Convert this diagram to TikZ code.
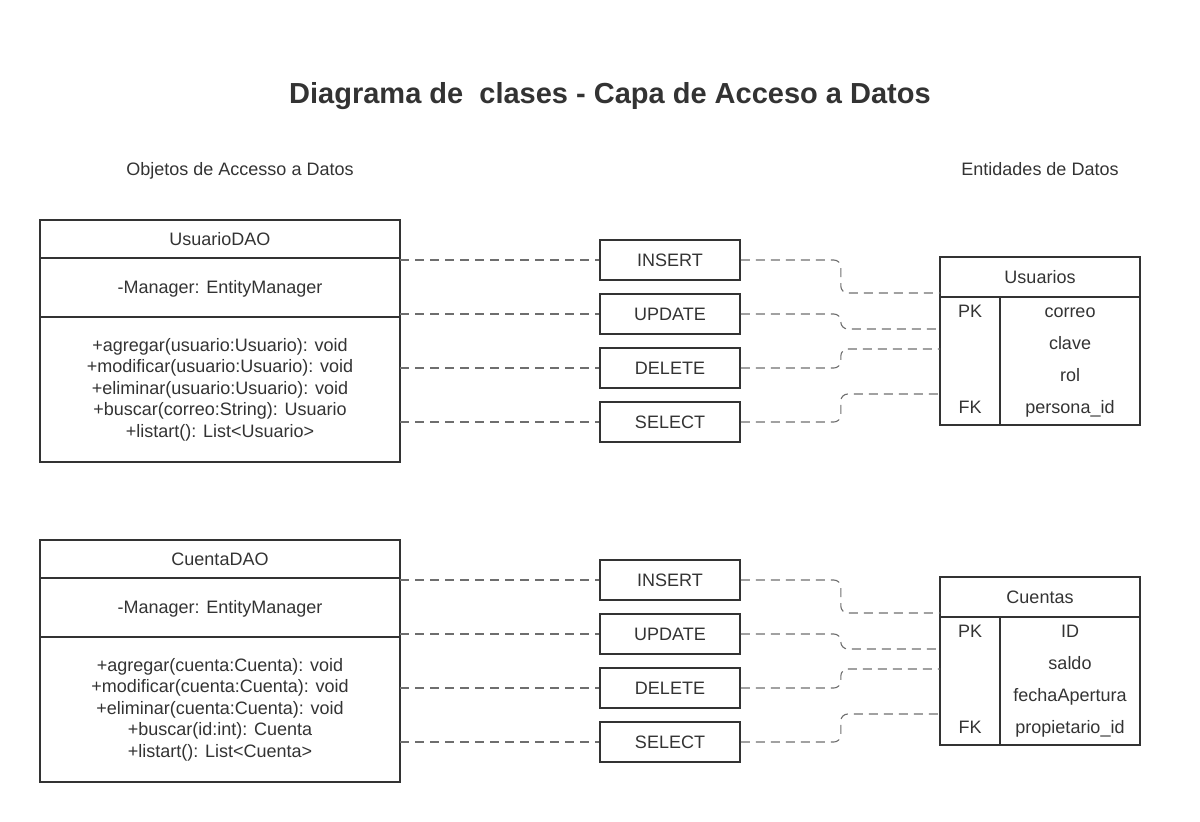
\documentclass[tikz,border=0pt]{standalone}
\usepackage{fontspec}
\setmainfont{Liberation Sans}
\usetikzlibrary{positioning, calc}

\begin{document}
\begin{tikzpicture}[x=1pt, y=-1pt,
    every node/.style={text=txtC, font=\fontsize{18}{21.5}\selectfont,
                       text height=12.9pt, text depth=0pt},
    cls/.style={draw=lineC, line width=1.6pt, minimum width=360pt, inner sep=0pt,
                outer sep=0pt, align=center},
    multi/.style={text height={}, text depth={}},
    opbox/.style={draw=lineC, line width=1.6pt, minimum width=140pt, minimum height=40pt,
                  inner sep=0pt},
    tbl/.style={draw=lineC, line width=1.6pt, minimum width=200pt, inner sep=0pt, outer sep=0pt},
    sepline/.style={draw=lineC, line width=1.6pt},
    link/.style={draw=linkC, line width=1.1pt, dash pattern=on 9pt off 6pt, rounded corners=7pt},
]

% Color definitions
\definecolor{txtC}{RGB}{51,51,51}
\definecolor{lineC}{RGB}{51,51,51}
\definecolor{linkC}{RGB}{110,110,110}

\useasboundingbox (0,0) rectangle (1200,822);

% Titles
\node[font=\bfseries\fontsize{29}{32}\selectfont, text height=20.8pt] (title) at (610,93)
  {Diagrama de\ \ clases - Capa de Acceso a Datos};
\node (daotitle) at (240,169) {Objetos de Accesso a Datos};
\node (enttitle) at (1040,169) {Entidades de Datos};

% UsuarioDAO class
\node[cls, minimum height=38pt] (uhead) at (220,239) {UsuarioDAO};
\node[cls, minimum height=59pt, below=0pt of uhead] (uattr) {-Manager: EntityManager};
\node[cls, multi, minimum height=145pt, below=0pt of uattr] (umeth)
  {+agregar(usuario:Usuario): void\\
   +modificar(usuario:Usuario): void\\
   +eliminar(usuario:Usuario): void\\
   +buscar(correo:String): Usuario\\
   +listart(): List<Usuario>};

% Usuarios entity
\node[tbl, minimum height=40pt] (usuhead) at (1040,277) {Usuarios};
\node[tbl, minimum height=128pt, below=0pt of usuhead] (usubody) {};
\draw[sepline] ($(usubody.north west)+(60,0)$) -- ($(usubody.south west)+(60,0)$);
\foreach \k/\f [count=\i] in {PK/correo, /clave, /rol, FK/persona\_id} {
  \node (usuk\i) at (970, 279+32*\i) {\k};
  \node (usuf\i) at (1070, 279+32*\i) {\f};
}
\foreach \y [count=\i] in {293, 329, 349, 394}
  \coordinate (usuc\i) at (940,\y);

% Operations (Usuarios)
\foreach \op [count=\i] in {INSERT, UPDATE, DELETE, SELECT} {
  \node[opbox] (u\i) at (670, 206+54*\i) {\op};
  \draw[link] (u\i.west -| umeth.east) -- (u\i.west);
  \draw[link] (u\i.east) -- ++(100,0) |- (usuc\i);
}

% CuentaDAO class
\node[cls, minimum height=38pt] (chead) at (220,559) {CuentaDAO};
\node[cls, minimum height=59pt, below=0pt of chead] (cattr) {-Manager: EntityManager};
\node[cls, multi, minimum height=145pt, below=0pt of cattr] (cmeth)
  {+agregar(cuenta:Cuenta): void\\
   +modificar(cuenta:Cuenta): void\\
   +eliminar(cuenta:Cuenta): void\\
   +buscar(id:int): Cuenta\\
   +listart(): List<Cuenta>};

% Cuentas entity
\node[tbl, minimum height=40pt] (cuehead) at (1040,597) {Cuentas};
\node[tbl, minimum height=128pt, below=0pt of cuehead] (cuebody) {};
\draw[sepline] ($(cuebody.north west)+(60,0)$) -- ($(cuebody.south west)+(60,0)$);
\foreach \k/\f [count=\i] in {PK/ID, /saldo, /fechaApertura, FK/propietario\_id} {
  \node (cuek\i) at (970, 599+32*\i) {\k};
  \node (cuef\i) at (1070, 599+32*\i) {\f};
}
\foreach \y [count=\i] in {613, 649, 669, 714}
  \coordinate (cuec\i) at (940,\y);

% Operations (Cuentas)
\foreach \op [count=\i] in {INSERT, UPDATE, DELETE, SELECT} {
  \node[opbox] (c\i) at (670, 526+54*\i) {\op};
  \draw[link] (c\i.west -| cmeth.east) -- (c\i.west);
  \draw[link] (c\i.east) -- ++(100,0) |- (cuec\i);
}

\end{tikzpicture}
\end{document}
